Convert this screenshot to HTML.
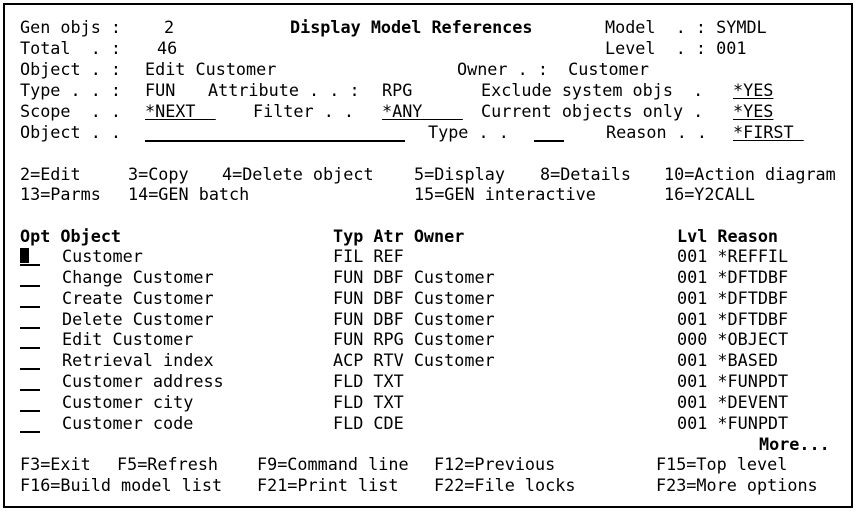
<!DOCTYPE html>
<html><head><meta charset="utf-8"><style>
html,body{margin:0;padding:0;background:#fff;}
body{width:856px;height:514px;position:relative;overflow:hidden;font-family:"DejaVu Sans Mono","Liberation Mono",monospace;font-size:16.8px;color:#000;}
.box{position:absolute;left:3px;top:3px;width:846px;height:501px;border:2px solid #000;}
.t{position:absolute;white-space:pre;line-height:20px;height:20px;}
.b{font-weight:bold;}
.u{text-decoration:underline;text-underline-offset:2px;}
.l{position:absolute;height:2px;background:#000;}
</style></head><body>
<div class="box"></div>

<!-- row 1 -->
<div class="t" style="left:20px;top:17px">Gen objs :</div>
<div class="t" style="left:164px;top:17px">2</div>
<div class="t b" style="left:290px;top:17px">Display Model References</div>
<div class="t" style="left:605px;top:17px">Model  . : SYMDL</div>
<!-- row 2 -->
<div class="t" style="left:20px;top:38px">Total  . :</div>
<div class="t" style="left:157px;top:38px">46</div>
<div class="t" style="left:605px;top:38px">Level  . : 001</div>
<!-- row 3 -->
<div class="t" style="left:20px;top:59px">Object . :</div>
<div class="t" style="left:145px;top:59px">Edit Customer</div>
<div class="t" style="left:457px;top:59px">Owner . :  Customer</div>
<!-- row 4 -->
<div class="t" style="left:20px;top:80px">Type . . :</div>
<div class="t" style="left:145px;top:80px">FUN</div>
<div class="t" style="left:208px;top:80px">Attribute . . :</div>
<div class="t" style="left:382px;top:80px">RPG</div>
<div class="t" style="left:481px;top:80px">Exclude system objs  .</div>
<div class="t u" style="left:733px;top:80px">*YES</div>
<!-- row 5 -->
<div class="t" style="left:20px;top:101px">Scope  . .</div>
<div class="t u" style="left:145px;top:101px">*NEXT  </div>
<div class="t" style="left:253px;top:101px">Filter . .</div>
<div class="t u" style="left:382px;top:101px">*ANY    </div>
<div class="t" style="left:481px;top:101px">Current objects only .</div>
<div class="t u" style="left:733px;top:101px">*YES</div>
<!-- row 6 -->
<div class="t" style="left:20px;top:122px">Object . .</div>
<div class="l" style="left:145px;top:140px;width:260px"></div>
<div class="t" style="left:428px;top:122px">Type . .</div>
<div class="l" style="left:534px;top:140px;width:30px"></div>
<div class="t" style="left:606px;top:122px">Reason . .</div>
<div class="t u" style="left:733px;top:122px">*FIRST </div>

<!-- options -->
<div class="t" style="left:20px;top:164px">2=Edit</div>
<div class="t" style="left:128px;top:164px">3=Copy</div>
<div class="t" style="left:222px;top:164px">4=Delete object</div>
<div class="t" style="left:414px;top:164px">5=Display</div>
<div class="t" style="left:540px;top:164px">8=Details</div>
<div class="t" style="left:664px;top:164px">10=Action diagram</div>
<div class="t" style="left:20px;top:184px">13=Parms</div>
<div class="t" style="left:128px;top:184px">14=GEN batch</div>
<div class="t" style="left:414px;top:184px">15=GEN interactive</div>
<div class="t" style="left:664px;top:184px">16=Y2CALL</div>

<!-- headers -->
<div class="t b" style="left:20px;top:226px">Opt Object</div>
<div class="t b" style="left:333px;top:226px">Typ Atr Owner</div>
<div class="t b" style="left:677px;top:226px">Lvl Reason</div>

<!-- list rows -->
<div style="position:absolute;left:20px;top:248px;width:9px;height:15px;background:#000"></div>
<div class="l" style="left:20px;top:264px;width:20px"></div>
<div class="t" style="left:62px;top:246px">Customer</div>
<div class="t" style="left:333px;top:246px">FIL REF</div>
<div class="t" style="left:677px;top:246px">001 *REFFIL</div>

<div class="l" style="left:20px;top:285px;width:20px"></div>
<div class="t" style="left:62px;top:267px">Change Customer</div>
<div class="t" style="left:333px;top:267px">FUN DBF Customer</div>
<div class="t" style="left:677px;top:267px">001 *DFTDBF</div>

<div class="l" style="left:20px;top:306px;width:20px"></div>
<div class="t" style="left:62px;top:288px">Create Customer</div>
<div class="t" style="left:333px;top:288px">FUN DBF Customer</div>
<div class="t" style="left:677px;top:288px">001 *DFTDBF</div>

<div class="l" style="left:20px;top:327px;width:20px"></div>
<div class="t" style="left:62px;top:309px">Delete Customer</div>
<div class="t" style="left:333px;top:309px">FUN DBF Customer</div>
<div class="t" style="left:677px;top:309px">001 *DFTDBF</div>

<div class="l" style="left:20px;top:347px;width:20px"></div>
<div class="t" style="left:62px;top:329px">Edit Customer</div>
<div class="t" style="left:333px;top:329px">FUN RPG Customer</div>
<div class="t" style="left:677px;top:329px">000 *OBJECT</div>

<div class="l" style="left:20px;top:368px;width:20px"></div>
<div class="t" style="left:62px;top:350px">Retrieval index</div>
<div class="t" style="left:333px;top:350px">ACP RTV Customer</div>
<div class="t" style="left:677px;top:350px">001 *BASED</div>

<div class="l" style="left:20px;top:389px;width:20px"></div>
<div class="t" style="left:62px;top:371px">Customer address</div>
<div class="t" style="left:333px;top:371px">FLD TXT</div>
<div class="t" style="left:677px;top:371px">001 *FUNPDT</div>

<div class="l" style="left:20px;top:410px;width:20px"></div>
<div class="t" style="left:62px;top:392px">Customer city</div>
<div class="t" style="left:333px;top:392px">FLD TXT</div>
<div class="t" style="left:677px;top:392px">001 *DEVENT</div>

<div class="l" style="left:20px;top:431px;width:20px"></div>
<div class="t" style="left:62px;top:413px">Customer code</div>
<div class="t" style="left:333px;top:413px">FLD CDE</div>
<div class="t" style="left:677px;top:413px">001 *FUNPDT</div>

<div class="t b" style="left:759px;top:434px">More...</div>

<!-- function keys -->
<div class="t" style="left:20px;top:454px">F3=Exit</div>
<div class="t" style="left:117px;top:454px">F5=Refresh</div>
<div class="t" style="left:257px;top:454px">F9=Command line</div>
<div class="t" style="left:434px;top:454px">F12=Previous</div>
<div class="t" style="left:656px;top:454px">F15=Top level</div>
<div class="t" style="left:20px;top:475px">F16=Build model list</div>
<div class="t" style="left:257px;top:475px">F21=Print list</div>
<div class="t" style="left:434px;top:475px">F22=File locks</div>
<div class="t" style="left:656px;top:475px">F23=More options</div>
</body></html>
